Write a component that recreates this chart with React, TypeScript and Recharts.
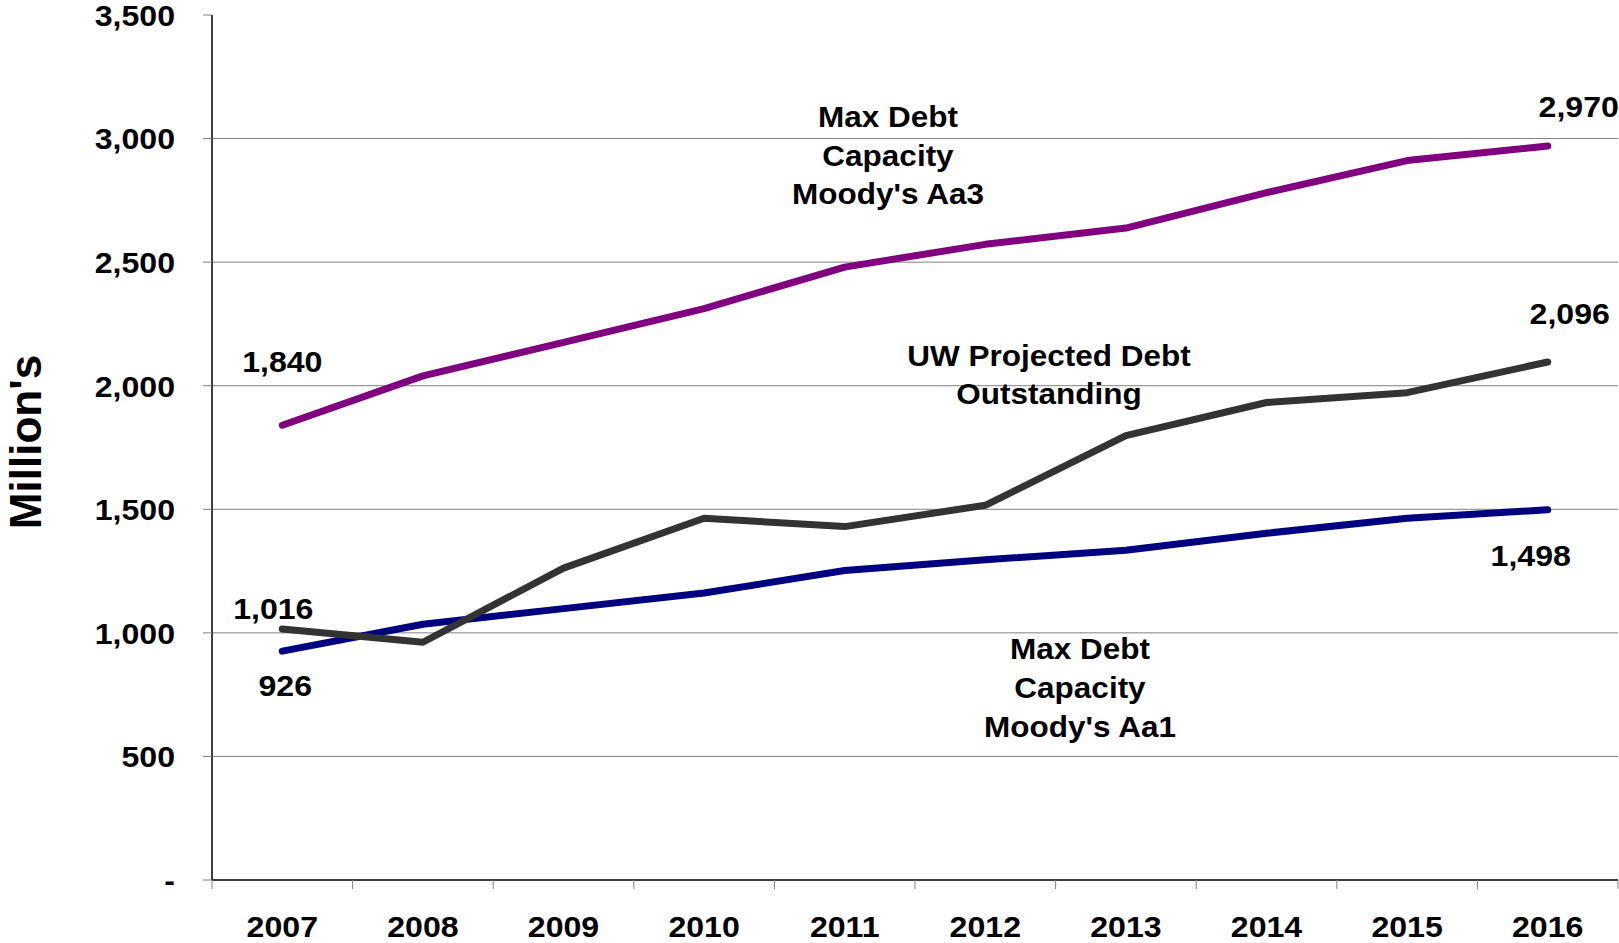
import React from 'react';
import { LineChart, Line, XAxis, YAxis, ReferenceLine, LabelList } from 'recharts';

// years on the category axis
const years = ['2007', '2008', '2009', '2010', '2011', '2012', '2013', '2014', '2015', '2016'];

// Max Debt Capacity Moody's Aa3
const aa3Values = [1840, 2040, 2175, 2312, 2480, 2572, 2638, 2781, 2911, 2970];
// UW Projected Debt Outstanding
const uwValues = [1016, 962, 1262, 1464, 1430, 1516, 1798, 1932, 1972, 2096];
// Max Debt Capacity Moody's Aa1
const aa1Values = [926, 1035, 1098, 1161, 1252, 1296, 1334, 1403, 1464, 1498];

const yTicks = [0, 500, 1000, 1500, 2000, 2500, 3000, 3500];
const gridValues = [500, 1000, 1500, 2000, 2500, 3000];

const data = years.map((year, i) => ({
  idx: i,
  year,
  aa3: aa3Values[i],
  uw: uwValues[i],
  aa1: aa1Values[i],
}));

// ticks on half steps carry the tick marks, whole steps carry the year labels
const xTicks: number[] = [];
for (let i = 0; i <= years.length; i++) {
  xTicks.push(i - 0.5);
  if (i < years.length) xTicks.push(i);
}

const FONT = '"Liberation Sans", Arial, sans-serif';
const WIDTH = 1619;
const HEIGHT = 943;

const fmt = (v: number) => (v === 0 ? '-' : v.toLocaleString('en-US'));

// the original text is a little wider than Liberation Sans, so stretch it sideways
const WideText = ({ x, y, anchor = 'middle', size = 30, sx = 1.07, dy, children }: any) => (
  <text
    transform={`translate(${x} ${y}) scale(${sx} 1)`}
    dy={dy}
    textAnchor={anchor}
    fontFamily={FONT}
    fontWeight="bold"
    fontSize={size}
    fill="#000"
  >
    {children}
  </text>
);

const XTick = (props: any) => {
  const { x, y, payload } = props;
  const v = payload.value;
  if (Number.isInteger(v)) {
    return (
      <WideText x={x} y={y + 57}>
        {years[v]}
      </WideText>
    );
  }
  return <line x1={x} y1={y} x2={x} y2={y + 9} stroke="#808080" strokeWidth={1} />;
};

const YTick = (props: any) => {
  const { x, y, payload } = props;
  return (
    <WideText x={x} y={y} anchor="end" dy="0.36em">
      {fmt(payload.value)}
    </WideText>
  );
};

// end labels: offset of the text centre from the point
const endLabel = (offsets: Record<number, [number, number]>) => (props: any) => {
  const { x, y, index, value } = props;
  const off = offsets[index];
  if (!off) return null;
  return (
    <WideText x={x + off[0]} y={y + off[1]} dy="0.36em">
      {fmt(value)}
    </WideText>
  );
};

const notes = [
  { x: 888, y: [116, 155, 193], lines: ['Max Debt', 'Capacity', "Moody's Aa3"] },
  { x: 1049, y: [355, 393], lines: ['UW Projected Debt', 'Outstanding'] },
  { x: 1080, y: [648, 687, 726], lines: ['Max Debt', 'Capacity', "Moody's Aa1"] },
];

const lineProps = {
  strokeWidth: 7,
  strokeLinecap: 'round' as const,
  strokeLinejoin: 'round' as const,
  dot: false,
  activeDot: false,
  isAnimationActive: false,
};

export default function App() {
  return (
    <div style={{ position: 'absolute', left: 0, top: 0, width: WIDTH, height: HEIGHT, background: '#fff' }}>
      <LineChart width={WIDTH} height={HEIGHT} data={data} margin={{ top: 15, right: 1, left: 0, bottom: 0 }}>
        <XAxis
          dataKey="idx"
          type="number"
          domain={[-0.5, 9.5]}
          ticks={xTicks}
          interval={0}
          height={63}
          tickSize={0}
          tickMargin={0}
          tickLine={false}
          tick={<XTick />}
          axisLine={{ stroke: '#000', strokeWidth: 1.5 }}
        />
        <YAxis
          domain={[0, 3500]}
          ticks={yTicks}
          interval={0}
          width={212}
          tickSize={9}
          tickMargin={28}
          tickLine={{ stroke: '#808080' }}
          axisLine={{ stroke: '#000', strokeWidth: 1.5 }}
          tick={<YTick />}
          label={{
            content: () => (
              <text
                x={25}
                y={442}
                dy="0.36em"
                transform="rotate(-90, 25, 442)"
                textAnchor="middle"
                fontFamily={FONT}
                fontWeight="bold"
                fontSize={44}
                fill="#000"
              >
                Million's
              </text>
            ),
          }}
        />
        {gridValues.map((v) => (
          <ReferenceLine key={v} y={v} stroke="#808080" strokeWidth={1} />
        ))}
        <Line dataKey="aa3" stroke="#800080" {...lineProps}>
          <LabelList content={endLabel({ 0: [0, -64], 9: [31, -40] })} />
        </Line>
        <Line dataKey="aa1" stroke="#000080" {...lineProps}>
          <LabelList content={endLabel({ 0: [3, 34], 9: [-17, 45] })} />
        </Line>
        <Line dataKey="uw" stroke="#333333" {...lineProps}>
          <LabelList content={endLabel({ 0: [-9, -21], 9: [22, -49] })} />
        </Line>
      </LineChart>
      <svg width={WIDTH} height={HEIGHT} style={{ position: 'absolute', left: 0, top: 0, pointerEvents: 'none' }}>
        {notes.map((n, i) =>
          n.lines.map((t, j) => (
            <WideText key={`${i}-${j}`} x={n.x} y={n.y[j] + 11} size={30} sx={1.05}>
              {t}
            </WideText>
          ))
        )}
      </svg>
    </div>
  );
}
